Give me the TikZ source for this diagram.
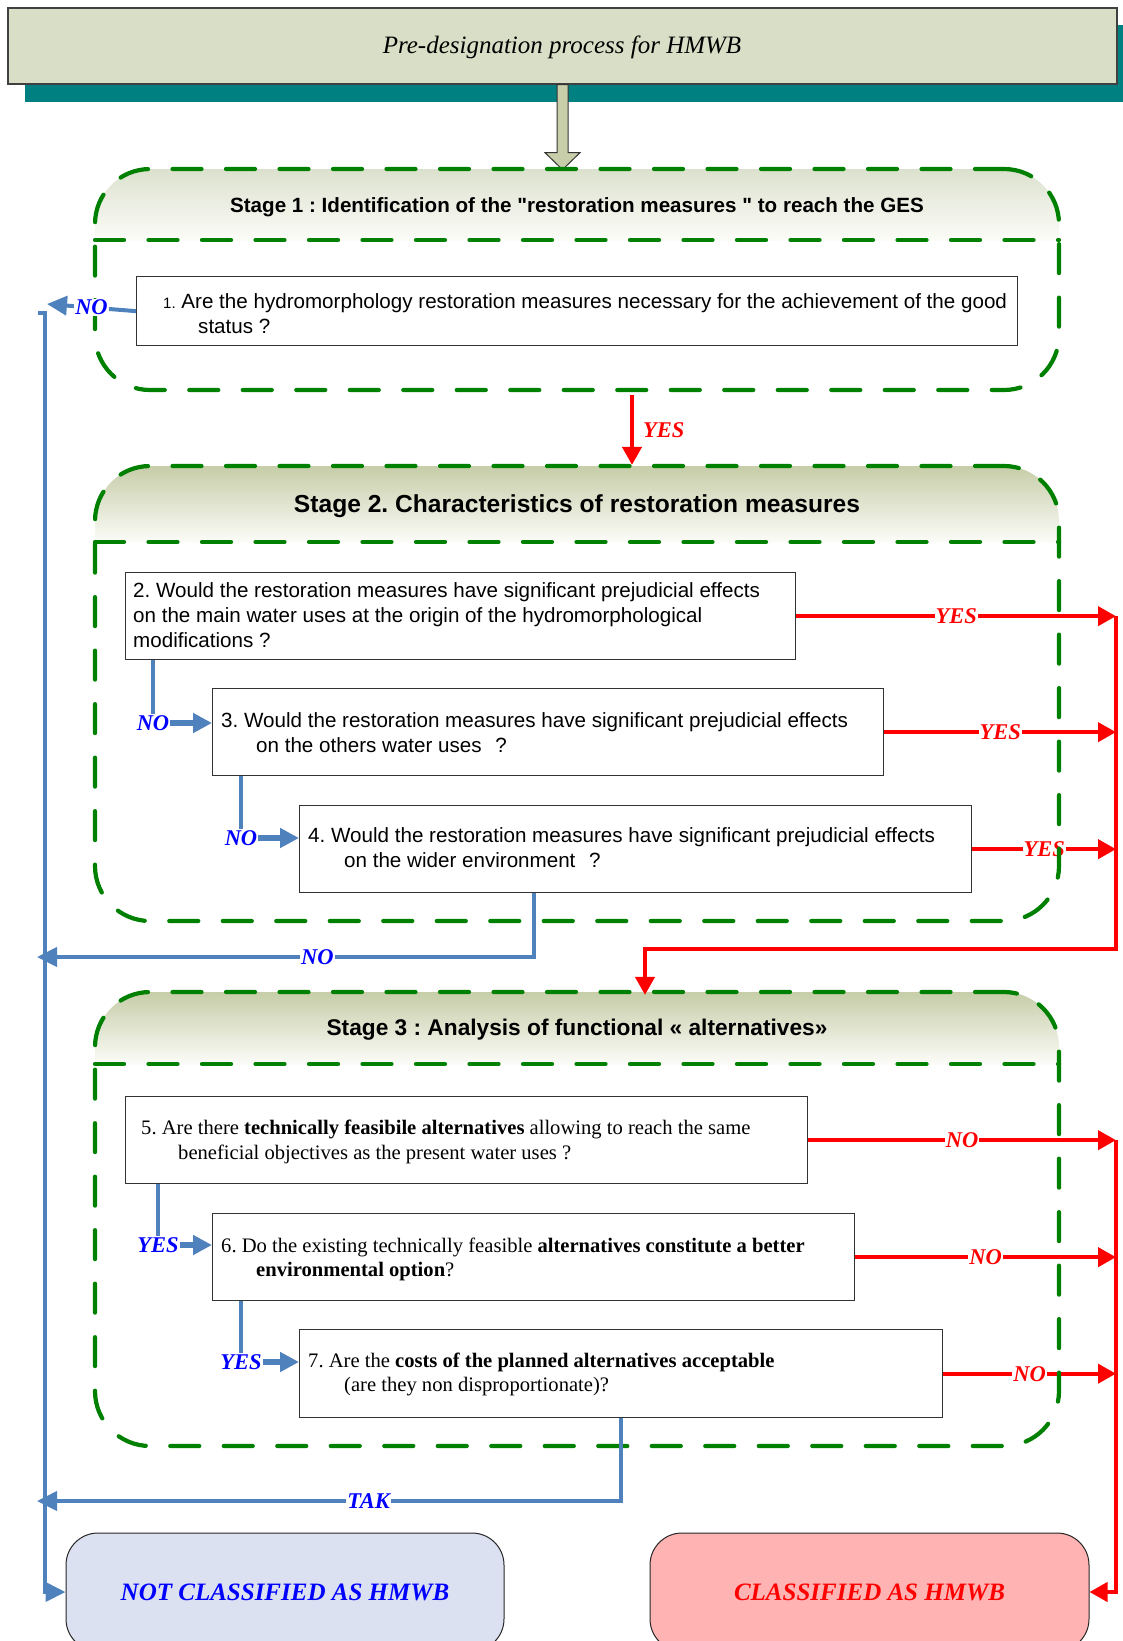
\documentclass[tikz,border=0pt]{standalone}
\usepackage{fontspec}
\setmainfont{Liberation Serif}
\setsansfont{Liberation Sans}
% same face without the TeX quote mapping, so that " stays a straight quote
\newfontfamily\plainsans{Liberation Sans}
\usetikzlibrary{arrows.meta,calc}
\frenchspacing

\definecolor{gr}{RGB}{0,128,0}
\definecolor{bcon}{RGB}{79,129,189}
\definecolor{labblue}{RGB}{0,0,255}
\definecolor{titlefill}{RGB}{217,222,198}
\definecolor{shadowteal}{RGB}{0,128,128}
\definecolor{arrowfill}{RGB}{200,206,170}
\definecolor{hOneTop}{RGB}{220,225,206}
\definecolor{hTop}{RGB}{198,205,168}
\definecolor{hBot}{RGB}{252,252,248}
\definecolor{ncfill}{RGB}{219,225,241}
\definecolor{clfill}{RGB}{255,179,179}

\newcommand\qsans{\sffamily\fontsize{20.6pt}{24.5pt}\selectfont}
\newcommand\qserif{\rmfamily\fontsize{20.6pt}{24.5pt}\selectfont}
\newcommand\lblfont{\rmfamily\bfseries\itshape\fontsize{22.5pt}{26pt}\selectfont}

\begin{document}
\begin{tikzpicture}[x=1pt,y=-1pt,
  gdash/.style={draw=gr, line width=4.2pt, line cap=round, dash pattern=on 29pt off 24.5pt},
  stagebox/.style={gdash, rectangle, rounded corners=55pt, inner sep=0pt},
  qbox/.style={draw=black!80, line width=1.3pt, fill=white, rectangle, inner sep=0pt, anchor=north west},
  qline/.style={anchor=base west, inner sep=0pt},
  headtxt/.style={anchor=base, inner sep=0pt, text=black},
  finalbox/.style={draw=black!85, line width=1pt, rectangle, rounded corners=32pt, inner sep=0pt,
    font=\rmfamily\bfseries\itshape\fontsize{25pt}{30pt}\selectfont},
  rline/.style={draw=red, line width=4pt},
  rarrow/.style={rline, -{Triangle[length=18pt,width=19pt]}},
  bline/.style={draw=bcon, line width=4pt},
  barrow/.style={bline, -{Triangle[length=20pt,width=19pt]}},
  bthin/.style={draw=bcon, line width=3.5pt},
  bsmallarrow/.style={draw=bcon, line width=5.5pt, -{Triangle[length=19pt,width=19pt]}},
  blabel/.style={text=labblue, font=\lblfont, fill=white, inner sep=1pt},
  rlabel/.style={text=red, font=\lblfont, fill=white, inner sep=1pt}]

\path[use as bounding box] (0,0) rectangle (1123,1641);
\clip (0,0) rectangle (1123,1641);

% title banner with its shadow and the fat arrow below it
\fill[shadowteal] (25,25) rectangle (1134,102);
\node[draw=black!75, line width=1.3pt, fill=titlefill, minimum width=1109pt, minimum height=76pt, inner sep=0pt] (title) at (562.5,46) {};
\node[anchor=base, inner sep=0pt, font=\rmfamily\itshape\fontsize{25pt}{30pt}\selectfont] (titletext) at (562,53) {Pre-designation process for HMWB};
\draw[fill=arrowfill, draw=black!80, line width=1pt, line join=miter]
  ([xshift=-5.5pt]title.south) -- ++(0,68) -- ++(-12,0) -- ++(17.5,17) -- ++(17.5,-17) -- ++(-12,0) -- ++(0,-68) -- cycle;

% shaded headers of the three stages
\foreach \ya/\yb/\yc/\hc in {169/240/390/hOneTop, 466/542/921/hTop, 992/1064/1446/hTop} {
  \begin{scope}
    \clip[rounded corners=55pt] (95,\ya) rectangle (1059,\yc);
    \shade[top color=\hc, bottom color=hBot] (95,\ya) rectangle (1059,\yb);
  \end{scope}
}

% question boxes
\node[qbox, minimum width=881pt, minimum height=69pt] (q1) at (136,276) {};
\node[qbox, minimum width=670pt, minimum height=87pt] (q2) at (125,572) {};
\node[qbox, minimum width=671pt, minimum height=87pt] (q3) at (212,688) {};
\node[qbox, minimum width=672pt, minimum height=87pt] (q4) at (299,805) {};
\node[qbox, minimum width=682pt, minimum height=87pt] (q5) at (125,1096) {};
\node[qbox, minimum width=642pt, minimum height=87pt] (q6) at (212,1213) {};
\node[qbox, minimum width=643pt, minimum height=88pt] (q7) at (299,1329) {};

\node[qline, font=\qsans] (q1a) at (163,308) {{\fontsize{15pt}{18pt}\selectfont 1.} Are the hydromorphology restoration measures necessary for the achievement of the good};
\node[qline, font=\qsans] (q1b) at (198,333) {status ?};

\node[qline, font=\qsans] (q2a) at (133,597) {2. Would the restoration measures have significant prejudicial effects};
\node[qline, font=\qsans] (q2b) at (133,622) {on the main water uses at the origin of the hydromorphological};
\node[qline, font=\qsans] (q2c) at (133,647) {modifications ?};

\node[qline, font=\qsans] (q3a) at (221,727) {3. Would the restoration measures have significant prejudicial effects};
\node[qline, font=\qsans] (q3b) at (256,752) {on the others water uses\hspace{8pt} ?};

\node[qline, font=\qsans] (q4a) at (308,842) {4. Would the restoration measures have significant prejudicial effects};
\node[qline, font=\qsans] (q4b) at (344,867) {on the wider environment\hspace{8pt} ?};

\node[qline, font=\qserif] (q5a) at (141,1134) {5. Are there \textbf{technically feasibile alternatives} allowing to reach the same};
\node[qline, font=\qserif] (q5b) at (178,1159) {beneficial objectives as the present water uses ?};

\node[qline, font=\qserif] (q6a) at (221,1252) {6. Do the existing technically feasible \textbf{alternatives constitute a better}};
\node[qline, font=\qserif] (q6b) at (256,1276) {\textbf{environmental option}?};

\node[qline, font=\qserif] (q7a) at (308,1367) {7. Are the \textbf{costs of the planned alternatives acceptable}};
\node[qline, font=\qserif] (q7b) at (344,1391) {(are they non disproportionate)?};

% red exits to the right-hand collector line
\coordinate (rx) at (1116,0);
\draw[rarrow] (q2.east) -- node[rlabel] (y2) {YES} (q2.east -| rx);
\draw[rarrow] (q3.east) -- node[rlabel] (y3) {YES} (q3.east -| rx);
\draw[rarrow] (q4.east) -- node[rlabel] (y4) {YES} (q4.east -| rx);
\draw[rarrow] (q5.east) -- node[rlabel] (n5) {NO} (q5.east -| rx);
\draw[rarrow] (q6.east) -- node[rlabel] (n6) {NO} (q6.east -| rx);
\draw[rarrow] (q7.east) -- node[rlabel] (n7) {NO} (q7.east -| rx);

% stage frames
\node[stagebox, minimum width=964pt, minimum height=221pt] (s1) at (577,279.5) {};
\node[stagebox, minimum width=964pt, minimum height=455pt] (s2) at (577,693.5) {};
\node[stagebox, minimum width=964pt, minimum height=454pt] (s3) at (577,1219) {};
\draw[gdash] (95,240) -- (1059,240);
\draw[gdash] (95,542) -- (1059,542);
\draw[gdash] (95,1064) -- (1059,1064);

\node[headtxt, font=\plainsans\bfseries\fontsize{20.6pt}{24pt}\selectfont] (h1) at (577,212) {Stage 1 : Identification of the "restoration measures " to reach the GES};
\node[headtxt, font=\sffamily\bfseries\fontsize{24.6pt}{28pt}\selectfont] (h2) at (577,512) {Stage 2. Characteristics of restoration measures};
\node[headtxt, font=\sffamily\bfseries\fontsize{22.7pt}{26pt}\selectfont] (h3) at (577,1035) {Stage 3 : Analysis of functional « alternatives»};

% outcomes
\node[finalbox, fill=ncfill, text=labblue, minimum width=438pt, minimum height=118pt] (nc) at (285,1592) {NOT CLASSIFIED AS HMWB};
\node[finalbox, fill=clfill, text=red, minimum width=439pt, minimum height=118pt] (cl) at (869.5,1592) {CLASSIFIED AS HMWB};

% red flow
\draw[rarrow] ($(s1.south)+(55,3)$) -- node[anchor=west, xshift=9pt, inner sep=0pt, text=red, font=\lblfont] (y1) {YES} ($(s2.north)+(55,1)$);
\coordinate (rbend) at (1116,949);
\coordinate (rturn) at (645,949);
\draw[rarrow] (q2.east -| rx) -- (rbend) -- (rturn) -- ($(rturn |- s3.north)+(0,5)$);
\draw[rarrow] (q5.east -| rx) |- (cl.east);

% blue flow
\coordinate (ttop) at (45,313);
\draw[barrow] ([xshift=-7pt]ttop) -- (ttop) |- (nc.west);
\coordinate (n1end) at (47,304);
\draw[barrow] (q1.west) -- node[blabel] (n1) {NO} (n1end);
\coordinate (n4end) at (37,957);
\draw[barrow] ([xshift=235pt]q4.south west) |- node[blabel, pos=0.718] (n4) {NO} (n4end);
\coordinate (tend) at (37,1501);
\draw[barrow] ([xshift=322pt]q7.south west) |- node[blabel, pos=0.716] (tak) {TAK} (tend);

\coordinate (c23) at (153,723);
\draw[bthin] (q2.south west -| c23) -- (c23);
\draw[bsmallarrow] (c23) -- (q3.west |- c23);
\node[blabel] (l23) at (c23) {NO};

\coordinate (c34) at (241,838);
\draw[bthin] (q3.south west -| c34) -- (c34);
\draw[bsmallarrow] (c34) -- (q4.west |- c34);
\node[blabel] (l34) at (c34) {NO};

\coordinate (c56) at (158,1245);
\draw[bthin] (q5.south west -| c56) -- (c56);
\draw[bsmallarrow] (c56) -- (q6.west |- c56);
\node[blabel] (l56) at (c56) {YES};

\coordinate (c67) at (241,1362);
\draw[bthin] (q6.south west -| c67) -- (c67);
\draw[bsmallarrow] (c67) -- (q7.west |- c67);
\node[blabel] (l67) at (c67) {YES};

\end{tikzpicture}
\end{document}
